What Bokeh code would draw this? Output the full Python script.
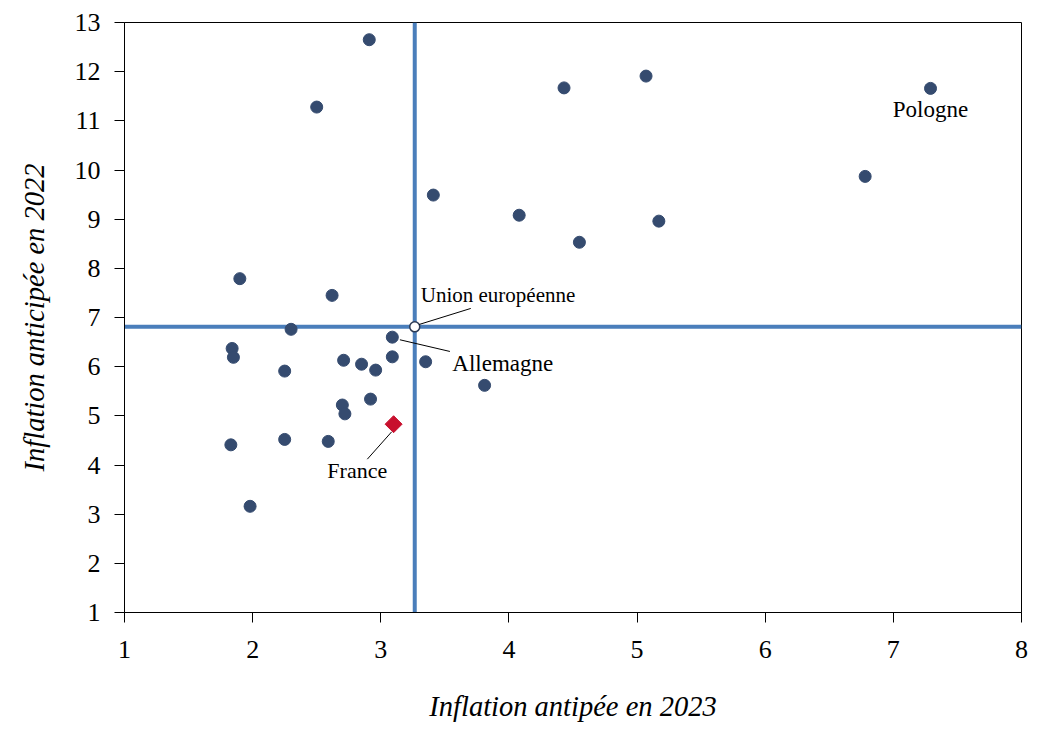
import numpy as np
from bokeh.plotting import figure
from bokeh.models import Span, Label, ColumnDataSource, FixedTicker, Range1d
from bokeh.embed import file_html
from bokeh.resources import INLINE

# Countries (unlabelled except Allemagne, Pologne)
x_2023 = [2.91, 2.50, 4.43, 5.07, 7.29, 6.78, 3.41, 4.08, 5.17, 4.55,
          1.90, 2.62, 2.30, 1.84, 1.85, 3.09, 3.09, 2.71, 2.85, 2.96,
          3.35, 2.25, 3.81, 2.92, 2.70, 2.72, 1.83, 2.25, 2.59, 1.98]
y_2022 = [12.65, 11.28, 11.67, 11.91, 11.66, 9.87, 9.49, 9.08, 8.96, 8.53,
          7.79, 7.45, 6.76, 6.37, 6.19, 6.60, 6.20, 6.13, 6.05, 5.93,
          6.10, 5.91, 5.62, 5.34, 5.22, 5.04, 4.41, 4.52, 4.48, 3.16]

france_x, france_y = 3.10, 4.83
eu_x, eu_y = 3.265, 6.81
allemagne_idx = 15
pologne_idx = 4

x_ticks = [1, 2, 3, 4, 5, 6, 7, 8]
y_ticks = [1, 2, 3, 4, 5, 6, 7, 8, 9, 10, 11, 12, 13]

FONT = "Liberation Serif"
DOT = "#354b6f"
LINE = "#4a7ebb"
RED = "#c8102e"

FW, FH = 897, 590
p = figure(frame_width=FW, frame_height=FH, output_backend="svg", toolbar_location=None,
           x_range=Range1d(1, 8), y_range=Range1d(1, 13),
           min_border_left=124, min_border_top=22, min_border_right=25, min_border_bottom=115)
p.grid.visible = False
p.outline_line_color = "black"
p.outline_line_width = 1
p.background_fill_color = "white"
p.border_fill_color = "white"

for ax in (p.xaxis[0], p.yaxis[0]):
    ax.major_tick_out = 10
    ax.major_tick_in = 0
    ax.minor_tick_out = 0
    ax.minor_tick_in = 0
    ax.axis_line_color = "black"
    ax.major_tick_line_color = "black"
    ax.major_label_text_font = FONT
    ax.major_label_text_font_size = "26px"
    ax.major_label_text_color = "black"
    ax.axis_label_text_font = FONT
    ax.axis_label_text_font_style = "italic"
    ax.axis_label_text_font_size = "28.5px"
    ax.axis_label_text_color = "black"

p.xaxis.ticker = FixedTicker(ticks=x_ticks)
p.yaxis.ticker = FixedTicker(ticks=y_ticks)
p.xaxis.axis_label = "Inflation antipée en 2023"
p.yaxis.axis_label = "Inflation anticipée en 2022"
p.xaxis.major_label_standoff = 18
p.yaxis.major_label_standoff = 14
p.xaxis.axis_label_standoff = 30
p.yaxis.axis_label_standoff = 22

# Reference lines through EU point
p.add_layout(Span(location=eu_y, dimension="width", line_color=LINE, line_width=4, level="underlay"))
p.add_layout(Span(location=eu_x, dimension="height", line_color=LINE, line_width=4, level="underlay"))

src = ColumnDataSource(dict(x=x_2023, y=y_2022))
p.scatter("x", "y", source=src, size=12, fill_color=DOT, line_color=DOT)

p.scatter([france_x], [france_y], marker="square", angle=np.pi / 4, size=12,
          fill_color=RED, line_color=RED)
p.scatter([eu_x], [eu_y], marker="circle", size=10, fill_color="white",
          line_color="#2b3a55", line_width=1.5)

# pixel -> data conversion for leader lines
PX = (8 - 1) / FW
PY = (13 - 1) / FH

def leader(x0, y0, a, b, c, d):
    p.line([x0 + a * PX, x0 + c * PX], [y0 + b * PY, y0 + d * PY], line_color="black", line_width=1)

ax_, ay_ = x_2023[allemagne_idx], y_2022[allemagne_idx]
leader(eu_x, eu_y, 4.5, 2.4, 56, 18.4)
leader(ax_, ay_, 7.6, -2.6, 57.6, -14.3)
leader(france_x, france_y, -2, -7.7, -26.3, -35)

def lab(txt, x, y, dx, dy, align="left", size="22px"):
    p.add_layout(Label(x=x, y=y, x_offset=dx, y_offset=dy + 7, text=txt, text_font=FONT,
                       text_font_size=size, text_color="black", text_align=align,
                       text_baseline="alphabetic"))

lab("Union européenne", eu_x, eu_y, 6, 25, size="21px")
lab("Allemagne", ax_, ay_, 60, -33.3, size="23px")
lab("France", france_x, france_y, -36.3, -53.3, "center")
lab("Pologne", x_2023[pologne_idx], y_2022[pologne_idx], 0, -28.4, "center", size="23px")

open("out.html", "w").write(file_html(p, INLINE))
